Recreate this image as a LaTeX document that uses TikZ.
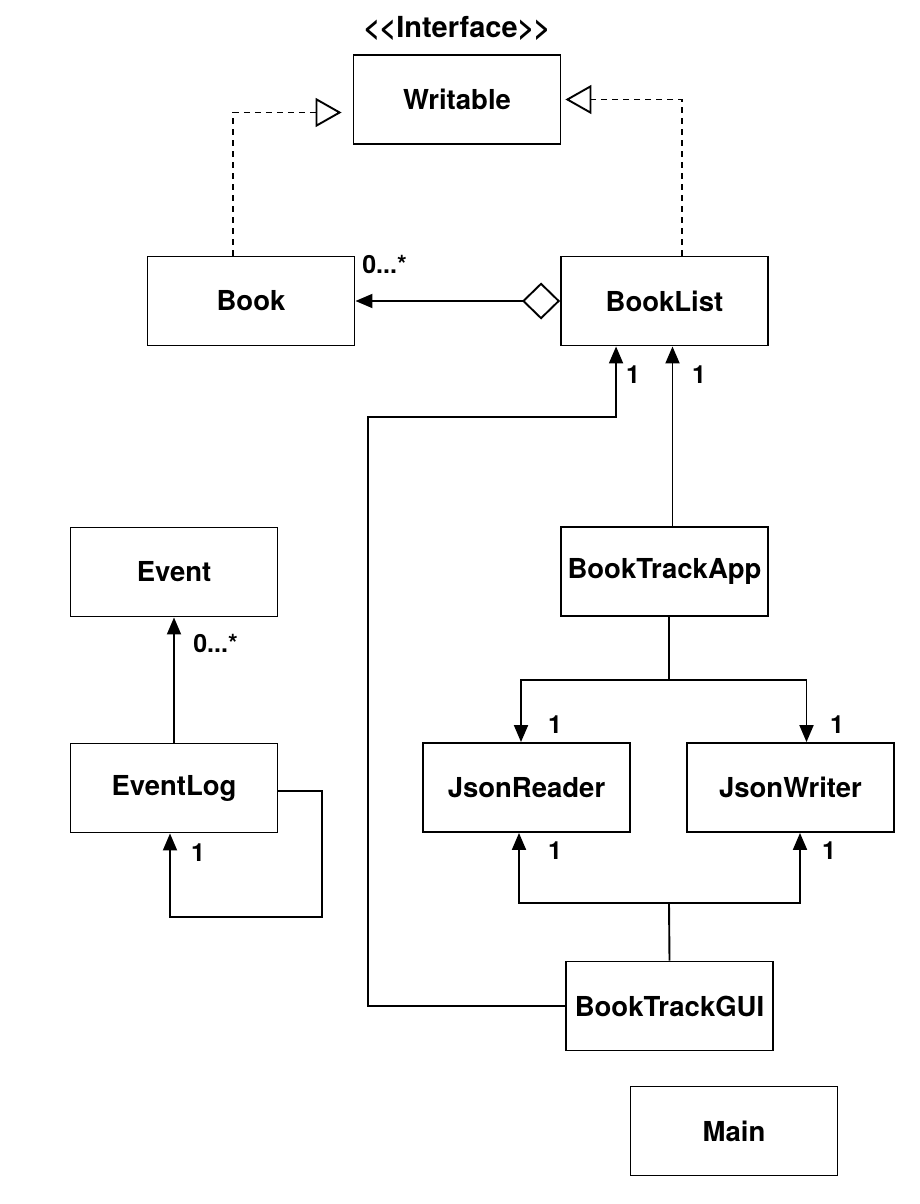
\documentclass[tikz,border=0pt]{standalone}
\usepackage{fontspec}
\setmainfont{TeX Gyre Heros}
\usetikzlibrary{arrows.meta,calc}

\begin{document}
\begin{tikzpicture}[x=1pt,y=-1pt,line width=1.9pt,
  cls/.style={draw,minimum width=207pt,minimum height=89pt,font=\fontsize{27.5}{32}\selectfont\bfseries},
  mult/.style={font=\fontsize{25}{30}\selectfont\bfseries},
  assoc/.style={-{Triangle[length=17pt,width=14pt]}},
  real/.style={dash pattern=on 6pt off 5pt,-{Triangle[open,length=26pt,width=29pt]}}]
\useasboundingbox (0,0) rectangle (920,1204);

\node[cls] (writable) at (457,99.5)  {Writable};
\node[cls] (book)     at (251,301)   {Book};
\node[cls] (booklist) at (664.5,301) {BookList};
\node[cls] (app)      at (664.5,571.5) {BookTrackApp};
\node[cls] (reader)   at (526.5,787.5) {JsonReader};
\node[cls] (writer)   at (790.5,787.5) {JsonWriter};
\node[cls] (gui)      at (669.5,1006) {BookTrackGUI};
\node[cls] (main)     at (734,1131)  {Main};
\node[cls] (event)    at (174,572)   {Event};
\node[cls] (evlog)    at (174,788)   {EventLog};
\node[font=\fontsize{29}{34}\selectfont\bfseries] (iface) at (457,28) {<\kern-1pt<Interface>\kern-1pt>};

\draw[real,shorten >=11pt] ($(book.north)+(-18,0)$) |- ($(writable.west)+(0,13)$);
\draw[real,shorten >=4pt] ($(booklist.north)+(17.5,0)$) |- (writable.east);
\draw[{Diamond[open,length=38pt,width=37pt]}-{Triangle[length=17pt,width=14pt]}] (booklist.west) -- (book.east);

\coordinate (guiturn) at (368,417);
\draw[assoc] (gui.west) -| (guiturn) -| ($(booklist.south west)+(56,0)$);
\draw[assoc] ($(app.north)+(8,0)$) -- ($(booklist.south)+(8,0)$);

\coordinate (appfork) at (669,680);
\draw ($(app.south)+(4.5,0)$) -- (appfork);
\draw[assoc] (appfork) -| ($(reader.north)+(-5.5,0)$);
\draw[assoc] (appfork) -| ($(writer.north)+(16,0)$);

\coordinate (guifork) at (669,903);
\draw (gui.north) -- (guifork);
\draw[assoc] (guifork) -| ($(reader.south)+(-7.5,0)$);
\draw[assoc] (guifork) -| ($(writer.south)+(9.5,0)$);

\draw[assoc] (evlog.north) -- (event.south);
\coordinate (logloop) at (322,917);
\draw[assoc] ($(evlog.east)+(0,3)$) -| (logloop) -| ($(evlog.south)+(-4,0)$);

\node[mult,anchor=west] (m1) at (358,264) {0...*};
\node[mult,anchor=west] (m2) at (189,643) {0...*};
\foreach \p/\q in {633/375,699/375,555/725,837/725,555/851,829/851,198/853}
  \node[mult] at (\p,\q) {1};
\end{tikzpicture}
\end{document}
